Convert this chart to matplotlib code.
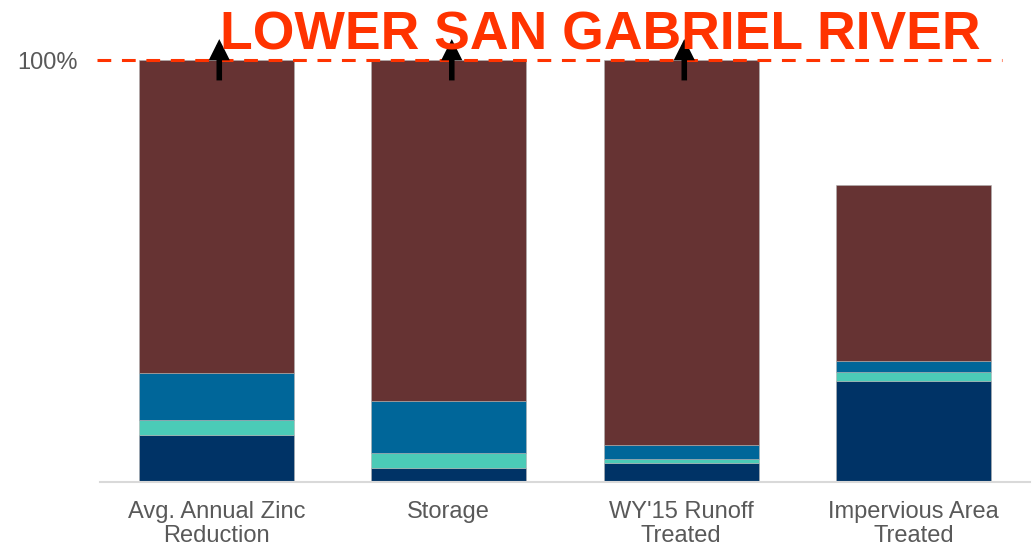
import matplotlib
matplotlib.use("Agg")
import matplotlib.pyplot as plt
import numpy as np

categories = ["Avg. Annual Zinc\nReduction", "Storage", "WY'15 Runoff\nTreated", "Impervious Area\nTreated"]
series_names = ["Series 1", "Series 2", "Series 3", "Series 4"]
s1 = [0.112, 0.033, 0.046, 0.240]
s2 = [0.035, 0.035, 0.009, 0.020]
s3 = [0.112, 0.123, 0.032, 0.027]
s4 = [0.741, 0.809, 0.913, 0.416]
arrow_bars = [0, 1, 2]
title = "LOWER SAN GABRIEL RIVER"

colors = ["#003366", "#4BCBB7", "#006699", "#663333"]

plt.rcParams['font.family'] = ['Liberation Sans', 'DejaVu Sans']

fig = plt.figure(figsize=(10.34, 5.49), dpi=100)
ax = fig.add_axes([100/1034, 67/549, 930/1034, 464/549])

x = np.arange(len(categories))
bottom = np.zeros(len(categories))
for vals, c in zip([s1, s2, s3, s4], colors):
    ax.bar(x, vals, width=0.665, bottom=bottom, color=c, edgecolor="#B0B0B0", linewidth=0.4, zorder=2)
    bottom += np.array(vals)

ax.set_xlim(-0.5, 3.5)
ax.set_ylim(0, 1.1)
ax.set_xticks(x)
ax.set_xticklabels(categories, fontsize=17, color="#595959", linespacing=1.1)
ax.set_yticks([1.0])
ax.set_yticklabels(["100%"], fontsize=17, color="#595959")
ax.tick_params(axis='both', length=0)
ax.tick_params(axis='x', pad=14)
ax.tick_params(axis='y', pad=16)
for s in ["top", "right", "left"]:
    ax.spines[s].set_visible(False)
ax.spines["bottom"].set_color("#D9D9D9")
ax.spines["bottom"].set_linewidth(1.5)

ax.plot([-0.513, 3.38], [1.0, 1.0], color="#FF3300", lw=2.2, linestyle=(0, (4.5, 3.5)), clip_on=False, zorder=3)

for i in arrow_bars:
    ax.annotate("", xy=(i + 0.013, 1.05), xytext=(i + 0.013, 0.952),
                arrowprops=dict(arrowstyle='-|>', lw=4, mutation_scale=22, color='black',
                                joinstyle='miter', capstyle='butt',
                                shrinkA=0, shrinkB=0), zorder=4, annotation_clip=False)

fig.text(600/1034, 1 - 50/549, title, fontsize=38.5, fontweight='bold', color="#FF3300",
         ha='center', va='baseline', zorder=5)

fig.savefig("out.png", dpi=100)
